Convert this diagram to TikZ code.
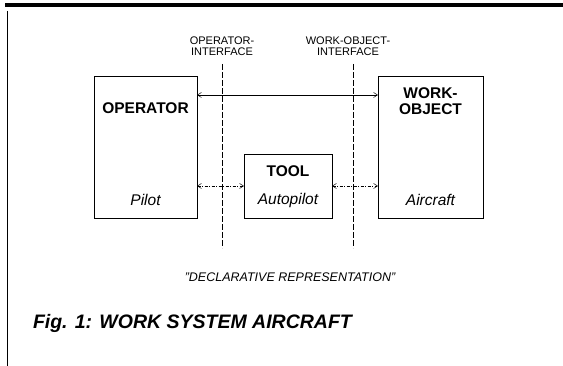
\documentclass[tikz,border=0pt]{standalone}
\usepackage{fontspec}
\setmainfont{Liberation Sans}
\usetikzlibrary{arrows.meta}

\begin{document}
\begin{tikzpicture}[
    x=1pt,y=-1pt,
    every node/.style={
        inner sep=0pt,
        outer sep=0pt,
    },
    box/.style n args={2}{
        draw=black,rectangle,
        line width=.8pt,
        minimum width=#1pt,
        minimum height=#2pt,
    },
    boxname/.style={
        font=\fontsize{15.5}{16}\selectfont\bfseries,
        align=center,
    },
    boxsub/.style={
        font=\fontsize{15.5}{16}\selectfont\itshape,
    },
    iflabel/.style={
        font=\fontsize{11}{10.5}\selectfont,
        align=center,
    },
    ifline/.style={
        line width=.7pt,
        dash pattern=on 6pt off 2pt,
    },
    link/.style={
        line width=.5pt,
        {Straight Barb[length=4pt,width=5pt]}-{Straight Barb[length=4pt,width=5pt]},
    },
    linkdash/.style={
        link,
        dash pattern=on 3pt off 1.5pt on 1pt off 1.5pt,
    },
]
    \useasboundingbox (0,0) rectangle (563,366);
    % frame of the page
    \fill (5,3.5) rectangle (563,7.5);
    \draw[line width=.6pt] (7,11) -- (7,366);

    \node[box={103}{142}] (op) at (145.5,147) {};
    \node[box={88}{64}] (tool) at (288,186) {};
    \node[box={105}{142}] (wo) at (430.5,147) {};

    \node[boxname] (opname) at (145.5,108) {OPERATOR};
    \node[boxsub] (opsub) at (145.5,200) {Pilot};
    \node[boxname] (toolname) at (288,171) {TOOL};
    \node[boxsub] (toolsub) at (288,200) {Autopilot};
    \node[boxname] (woname) at (430.5,101) {WORK-\\OBJECT};
    \node[boxsub] (wosub) at (430.5,200) {Aircraft};

    \node[iflabel] (opif) at (222,46) {OPERATOR-\\INTERFACE};
    \node[iflabel] (woif) at (348,46) {WORK-OBJECT-\\INTERFACE};
    \coordinate (opiftop) at (222,64);
    \coordinate (opifbot) at (222,248);
    \coordinate (woiftop) at (353,64);
    \coordinate (woifbot) at (353,248);
    \draw[ifline] (opiftop) -- (opifbot);
    \draw[ifline] (woiftop) -- (woifbot);

    \coordinate (topline) at (0,95);
    \draw[link] (op.east |- topline) -- (wo.west |- topline);
    \draw[linkdash] (op.east |- tool.center) -- (tool.west);
    \draw[linkdash] (tool.east) -- (wo.west |- tool.center);

    \node[font=\fontsize{12.5}{14}\selectfont\itshape] (decl) at (290,277)
        {"DECLARATIVE REPRESENTATION"};
    \node[font=\fontsize{19.5}{22}\selectfont\bfseries\itshape,anchor=west] (caption)
        at (33,323) {Fig. 1: WORK SYSTEM AIRCRAFT};
\end{tikzpicture}
\end{document}
